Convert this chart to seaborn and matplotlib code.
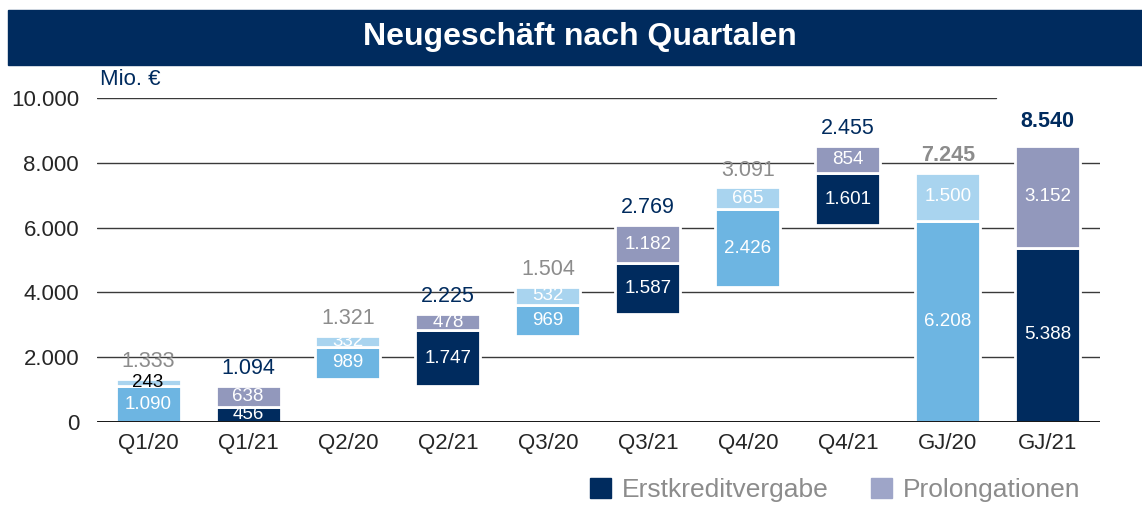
import matplotlib
matplotlib.use("Agg")
import matplotlib.pyplot as plt
import matplotlib.patches as mpatches
import pandas as pd
import seaborn as sns

# data (Mio. EUR)
categories = ["Q1/20", "Q1/21", "Q2/20", "Q2/21", "Q3/20", "Q3/21", "Q4/20", "Q4/21", "GJ/20", "GJ/21"]
lower_seg = [1090, 456, 989, 1747, 969, 1587, 2426, 1601, 6208, 5388]
upper_seg = [243, 638, 332, 478, 532, 1182, 665, 854, 1500, 3152]
totals = [1333, 1094, 1321, 2225, 1504, 2769, 3091, 2455, 7245, 8540]
lower_labels = ["1.090", "456", "989", "1.747", "969", "1.587", "2.426", "1.601", "6.208", "5.388"]
upper_labels = ["243", "638", "332", "478", "532", "1.182", "665", "854", "1.500", "3.152"]
total_labels = ["1.333", "1.094", "1.321", "2.225", "1.504", "2.769", "3.091", "2.455", "7.245", "8.540"]
year = ["20", "21", "20", "21", "20", "21", "20", "21", "20", "21"]
yticks = [0, 2000, 4000, 6000, 8000, 10000]
ytick_labels = ["0", "2.000", "4.000", "6.000", "8.000", "10.000"]

NAVY = "#002B5E"
LBLUE = "#6DB5E2"
LLBLUE = "#A9D4EF"
PURPLE = "#9298BC"
GREY = "#8C8C8C"

df = pd.DataFrame({"cat": categories, "low": lower_seg, "up": upper_seg,
                   "total": totals, "year": year})
# floating bars: quarters start where the previous quarter of the same year ended
df["bottom"] = 0
for y in ["20", "21"]:
    m = df["year"] == y
    quarters = m & ~df["cat"].str.startswith("GJ")
    seg = (df.loc[quarters, "low"] + df.loc[quarters, "up"])
    df.loc[quarters, "bottom"] = seg.cumsum().shift(1, fill_value=0).values

sns.set_style("white")
plt.rcParams["font.family"] = ["Liberation Sans", "DejaVu Sans"]

fig = plt.figure(figsize=(11.42, 5.05), dpi=100)
ax = fig.add_axes([0.085, 0.165, 0.878, 0.64])

for i, r in df.iterrows():
    c_low = LBLUE if r["year"] == "20" else NAVY
    c_up = LLBLUE if r["year"] == "20" else PURPLE
    sns.barplot(x=[r["cat"]], y=[r["low"]], order=categories, color=c_low,
                bottom=r["bottom"], width=0.65, edgecolor="white", linewidth=2,
                saturation=1, zorder=3, ax=ax)
    sns.barplot(x=[r["cat"]], y=[r["up"]], order=categories, color=c_up,
                bottom=r["bottom"] + r["low"], width=0.65, edgecolor="white", linewidth=2,
                saturation=1, zorder=3, ax=ax)

    # segment labels
    ax.text(i, r["bottom"] + r["low"] / 2, lower_labels[i], ha="center", va="center",
            color="white", fontsize=13.5, zorder=5)
    up_col = "black" if i == 0 else "white"
    ax.text(i, r["bottom"] + r["low"] + r["up"] / 2, upper_labels[i], ha="center", va="center",
            color=up_col, fontsize=13.5, zorder=5)

    # total label above bar
    top = r["bottom"] + r["low"] + r["up"]
    tcol = GREY if r["year"] == "20" else NAVY
    is_gj = r["cat"].startswith("GJ")
    off = 10 if (is_gj and r["year"] == "21") else 5
    ax.annotate(total_labels[i], (i, top), xytext=(0, off), textcoords="offset points",
                ha="center", va="bottom", fontsize=15.5, color=tcol,
                fontweight="bold" if is_gj else "normal", zorder=5)

# gridlines
for yv in yticks[1:-1]:
    ax.axhline(yv, color="#3a3a3a", linewidth=1.0, zorder=1)
ax.axhline(10000, xmax=0.897, color="#3a3a3a", linewidth=1.0, zorder=1)
ax.axhline(0, color="black", linewidth=2, zorder=4)

ax.set_xlim(-0.51, 9.52)
ax.set_ylim(0, 10000)
ax.set_yticks(yticks)
ax.set_yticklabels(ytick_labels, fontsize=16)
ax.tick_params(axis="y", length=0, pad=13)
ax.tick_params(axis="x", length=0, pad=8, labelsize=16)
ax.set_xlabel("")
ax.set_ylabel("")
for s in ax.spines.values():
    s.set_visible(False)

ax.text(0.003, 1.025, "Mio. €", transform=ax.transAxes, ha="left", va="bottom",
        fontsize=16, color=NAVY)

# title banner
fig.patches.append(mpatches.Rectangle((8 / 1142, 1 - 65 / 505), 1 - 8 / 1142, 55 / 505,
                                      transform=fig.transFigure, color=NAVY, zorder=0))
fig.text(0.508, 1 - 37 / 505, "Neugeschäft nach Quartalen", ha="center", va="center",
         color="white", fontsize=23, fontweight="bold")

handles = [mpatches.Patch(color=NAVY, label="Erstkreditvergabe"),
           mpatches.Patch(color="#9EA5C8", label="Prolongationen")]
leg = fig.legend(handles=handles, loc="center right", bbox_to_anchor=(0.962, 1 - 490 / 505),
                 ncol=2, frameon=False, fontsize=19, handlelength=0.8, handleheight=0.8,
                 handletextpad=0.4, columnspacing=1.6, borderpad=0.2)
for t in leg.get_texts():
    t.set_color(GREY)

fig.savefig("out.png", dpi=100)
